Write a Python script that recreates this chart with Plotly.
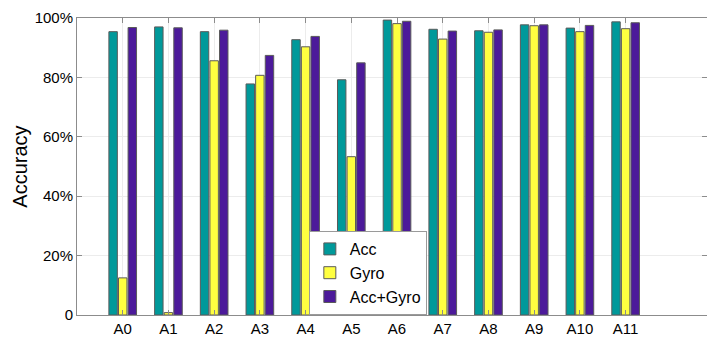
import plotly.graph_objects as go

categories = ["A0", "A1", "A2", "A3", "A4", "A5", "A6", "A7", "A8", "A9", "A10", "A11"]
acc = [95.4, 97.0, 95.4, 77.8, 92.7, 79.2, 99.3, 96.2, 95.7, 97.7, 96.6, 98.7]
gyro = [12.5, 0.8, 85.6, 80.7, 90.3, 53.3, 98.1, 92.9, 95.2, 97.4, 95.4, 96.4]
acc_gyro = [96.8, 96.7, 95.9, 87.4, 93.8, 84.9, 98.9, 95.6, 96.0, 97.7, 97.5, 98.4]
y_tick_vals = [0, 20, 40, 60, 80, 100]
y_tick_text = ["0", "20%", "40%", "60%", "80%", "100%"]

series = [
    ("Acc", acc, "#00999a"),
    ("Gyro", gyro, "#ffff40"),
    ("Acc+Gyro", acc_gyro, "#4c1a9a"),
]

fig = go.Figure()
for name, vals, color in series:
    fig.add_trace(go.Bar(
        x=list(range(len(categories))), y=vals, name=name,
        marker=dict(color=color, line=dict(color="#5a5a5a", width=1)),
    ))

font = "Liberation Sans, Arial, sans-serif"
fig.update_layout(
    width=707, height=338,
    margin=dict(l=77, r=0, t=18, b=23),
    paper_bgcolor="white", plot_bgcolor="white",
    barmode="group", bargap=0.37, bargroupgap=0.12,
    font=dict(family=font, size=15, color="black"),
    showlegend=True,
    legend=dict(
        x=0.368, y=0.0, xanchor="left", yanchor="bottom",
        bgcolor="white", bordercolor="#9a9a9a", borderwidth=1,
        font=dict(size=16, family=font), itemwidth=30,
    ),
    xaxis=dict(
        range=[-1, 12.78],
        tickvals=list(range(len(categories))), ticktext=categories,
        showline=True, linecolor="#8c8c8c", linewidth=1, mirror="ticks",
        ticks="inside", ticklen=5, tickcolor="#8c8c8c",
        showgrid=True, gridcolor="#ececec", gridwidth=1,
        tickfont=dict(size=15), zeroline=False,
    ),
    yaxis=dict(
        range=[0, 100],
        tickvals=y_tick_vals, ticktext=y_tick_text,
        showline=True, linecolor="#8c8c8c", linewidth=1, mirror="ticks",
        ticks="inside", ticklen=5, tickcolor="#8c8c8c",
        showgrid=True, gridcolor="#ececec", gridwidth=1,
        tickfont=dict(size=15), zeroline=False,
        title=dict(text="Accuracy", font=dict(size=20), standoff=1),
    ),
)

fig.write_html(
    "out.html",
    config={"displayModeBar": False},
    post_script="document.body.style.margin='0';document.body.style.overflow='hidden';",
)
